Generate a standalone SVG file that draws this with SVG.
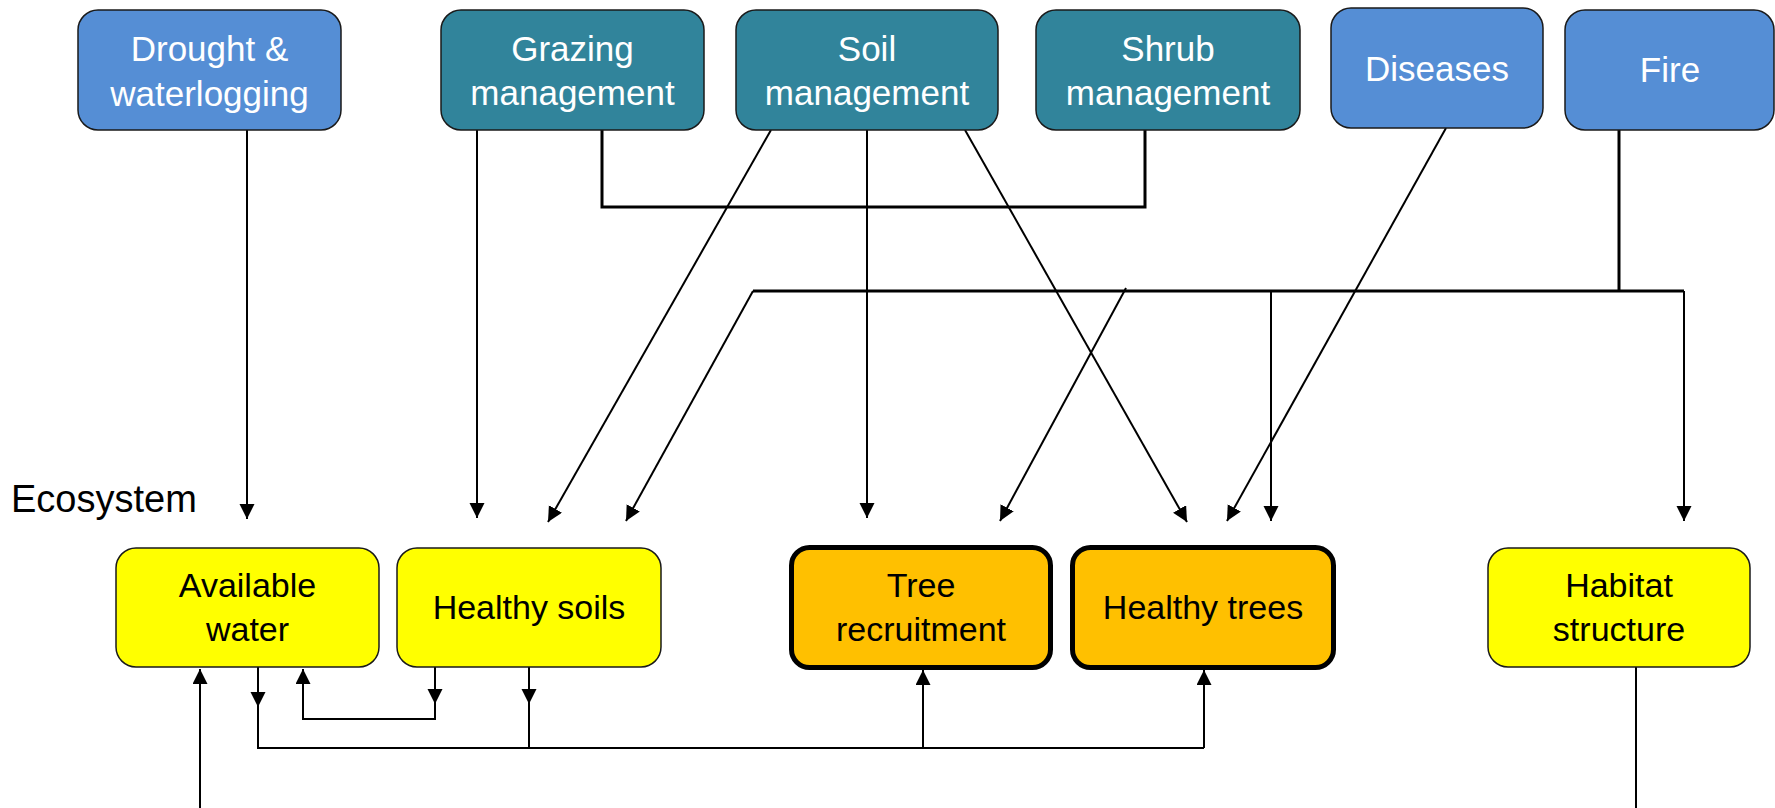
<svg xmlns="http://www.w3.org/2000/svg" width="1775" height="808" viewBox="0 0 1775 808">
<defs>
<marker id="arr" markerUnits="userSpaceOnUse" markerWidth="16" markerHeight="16" refX="15" refY="7.5" orient="auto">
<path d="M0,0 L15,7.5 L0,15 z" fill="#000"/>
</marker>
<style>
.blue{fill:#558ED5;stroke:#1a1a1a;stroke-width:1.5}
.teal{fill:#31849B;stroke:#1a1a1a;stroke-width:1.5}
.yel{fill:#FFFF00;stroke:#1a1a1a;stroke-width:1.5}
.ora{fill:#FFC000;stroke:#000;stroke-width:5}
.tw{font-family:"Liberation Sans",Arial,sans-serif;font-size:35px;fill:#fff;text-anchor:middle}
.tb{font-family:"Liberation Sans",Arial,sans-serif;font-size:34px;fill:#000;text-anchor:middle}
.c{fill:none;stroke:#000;stroke-width:2}
.a{marker-end:url(#arr)}
.k{fill:none;stroke:#000;stroke-width:3}
</style>
</defs>
<rect width="1775" height="808" fill="#fff"/>
<g id="connectors">
<path class="c a" d="M247,130 V519"/>
<path class="c a" d="M477,130 V518"/>
<path class="k" d="M602,130 V207 H1145 V130"/>
<path class="c a" d="M771,130 L548,522"/>
<path class="c a" d="M867,130 V518"/>
<path class="c a" d="M965,130 L1187,522"/>
<path class="c a" d="M1446,128 L1227,521"/>
<path class="k" d="M1619,130 V291"/>
<path class="k" d="M753,291 H1684"/>
<path class="c a" d="M753,291 L626,521"/>
<path class="c a" d="M1126,288 L1000,521"/>
<path class="c a" d="M1271,291 V521"/>
<path class="c a" d="M1684,291 V521"/>
<path class="c a" d="M200,808 V669"/>
<path class="c a" d="M258,667 V707"/>
<path class="c" d="M258,706 V748 H1204"/>
<path class="c a" d="M435,667 V704"/>
<path class="c a" d="M435,703 V719 H303 V669"/>
<path class="c a" d="M529,667 V704"/>
<path class="c" d="M529,703 V748"/>
<path class="c a" d="M923,748 V670"/>
<path class="c a" d="M1204,748 V670"/>
<path class="c" d="M1636,667 V808"/>
</g>
<g id="drought">
<rect class="blue" x="78" y="10" width="263" height="120" rx="20"/>
<text class="tw" x="209.5" y="61">Drought &amp;</text>
<text class="tw" x="209.5" y="106">waterlogging</text>
</g>
<g id="grazing">
<rect class="teal" x="441" y="10" width="263" height="120" rx="20"/>
<text class="tw" x="572.5" y="61">Grazing</text>
<text class="tw" x="572.5" y="105">management</text>
</g>
<g id="soil">
<rect class="teal" x="736" y="10" width="262" height="120" rx="20"/>
<text class="tw" x="867" y="61">Soil</text>
<text class="tw" x="867" y="105">management</text>
</g>
<g id="shrub">
<rect class="teal" x="1036" y="10" width="264" height="120" rx="20"/>
<text class="tw" x="1168" y="61">Shrub</text>
<text class="tw" x="1168" y="105">management</text>
</g>
<g id="diseases">
<rect class="blue" x="1331" y="8" width="212" height="120" rx="20"/>
<text class="tw" x="1437" y="81">Diseases</text>
</g>
<g id="fire">
<rect class="blue" x="1565" y="10" width="209" height="120" rx="20"/>
<text class="tw" x="1670" y="82">Fire</text>
</g>
<g id="ecosystem-label">
<text x="11" y="512" font-family="'Liberation Sans',Arial,sans-serif" font-size="38" fill="#000">Ecosystem</text>
</g>
<g id="available-water">
<rect class="yel" x="116" y="548" width="263" height="119" rx="20"/>
<text class="tb" x="247.5" y="597">Available</text>
<text class="tb" x="247.5" y="641">water</text>
</g>
<g id="healthy-soils">
<rect class="yel" x="397" y="548" width="264" height="119" rx="20"/>
<text class="tb" x="529" y="619">Healthy soils</text>
</g>
<g id="tree-recruitment">
<rect class="ora" x="791.5" y="547.5" width="259" height="120" rx="18"/>
<text class="tb" x="921" y="597">Tree</text>
<text class="tb" x="921" y="641">recruitment</text>
</g>
<g id="healthy-trees">
<rect class="ora" x="1072.5" y="547.5" width="261" height="120" rx="18"/>
<text class="tb" x="1203" y="619">Healthy trees</text>
</g>
<g id="habitat-structure">
<rect class="yel" x="1488" y="548" width="262" height="119" rx="20"/>
<text class="tb" x="1619" y="597">Habitat</text>
<text class="tb" x="1619" y="641">structure</text>
</g>
</svg>
